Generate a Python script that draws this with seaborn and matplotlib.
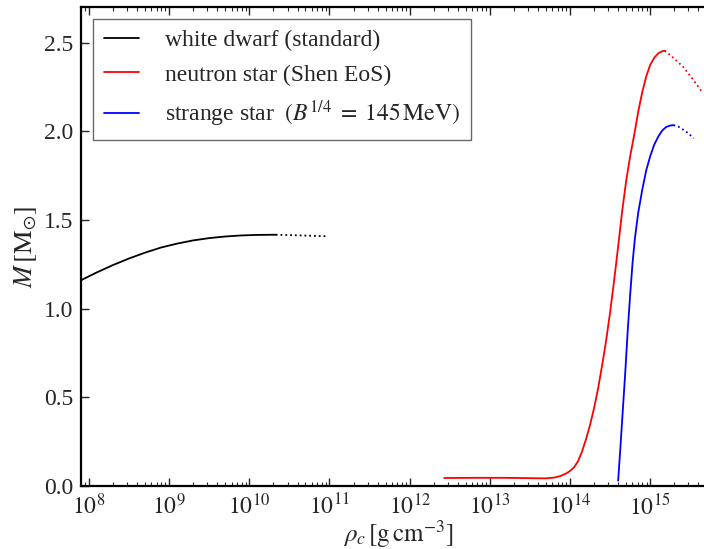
import numpy as np
import pandas as pd
import matplotlib
matplotlib.use("Agg")
import matplotlib.pyplot as plt
import seaborn as sns

# ---- data (log10 of central density [g cm^-3], mass [M_sun]) ----
wd_logrho = [7.90, 8.10, 8.30, 8.50, 8.70, 8.90, 9.00, 9.10, 9.30, 9.50, 9.70,
             9.90, 10.10, 10.33]
wd_mass = [1.160, 1.205, 1.246, 1.283, 1.316, 1.345, 1.356, 1.367, 1.385, 1.398,
           1.407, 1.413, 1.416, 1.417]
wd_unst_logrho = [10.33, 10.65, 10.98]
wd_unst_mass = [1.417, 1.413, 1.408]

ns_logrho = [12.43, 12.80, 13.20, 13.50, 13.70, 13.80, 13.88, 13.95, 14.00, 14.05,
             14.10, 14.15, 14.20, 14.25, 14.30, 14.35, 14.40, 14.45, 14.50, 14.55,
             14.60, 14.65, 14.70, 14.75, 14.80, 14.85, 14.90, 14.95, 15.00, 15.05,
             15.10, 15.15, 15.18]
ns_mass = [0.045, 0.046, 0.046, 0.044, 0.043, 0.047, 0.056, 0.070, 0.085, 0.105,
           0.140, 0.195, 0.265, 0.345, 0.440, 0.550, 0.680, 0.820, 0.980, 1.160,
           1.350, 1.550, 1.720, 1.860, 1.980, 2.110, 2.220, 2.310, 2.375, 2.415,
           2.440, 2.452, 2.455]
ns_unst_logrho = [15.18, 15.25, 15.30, 15.41, 15.53, 15.65]
ns_unst_mass = [2.455, 2.430, 2.410, 2.364, 2.295, 2.220]

ss_logrho = [14.60, 14.63, 14.66, 14.69, 14.72, 14.75, 14.78, 14.81, 14.85, 14.90,
             14.95, 15.00, 15.05, 15.10, 15.15, 15.20, 15.25, 15.29]
ss_mass = [0.030, 0.230, 0.440, 0.650, 0.880, 1.080, 1.260, 1.400, 1.540, 1.669,
           1.780, 1.860, 1.925, 1.970, 2.005, 2.025, 2.033, 2.035]
ss_unst_logrho = [15.29, 15.35, 15.41, 15.48, 15.54]
ss_unst_mass = [2.035, 2.027, 2.010, 1.988, 1.960]

labels = ["white dwarf (standard)",
          "neutron star (Shen EoS)",
          r"strange star $\ \left(B^{1/4}\;=\;145\,\mathrm{MeV}\right)$"]
colors = ["black", "red", "blue"]
xtick_exps = [8, 9, 10, 11, 12, 13, 14, 15]
yticks = [0.0, 0.5, 1.0, 1.5, 2.0, 2.5]

sns.set_style("ticks")
plt.rcParams["font.family"] = ["Liberation Serif", "DejaVu Serif"]
plt.rcParams["mathtext.fontset"] = "stix"

fig = plt.figure(figsize=(7.04, 5.49), dpi=100)
ax = fig.add_axes([0.1146, 0.1148, 0.9024, 0.872])

stable = [(wd_logrho, wd_mass), (ns_logrho, ns_mass), (ss_logrho, ss_mass)]
unstable = [(wd_unst_logrho, wd_unst_mass), (ns_unst_logrho, ns_unst_mass),
            (ss_unst_logrho, ss_unst_mass)]

for (lx, m), lab, c in zip(stable, labels, colors):
    df = pd.DataFrame({"rho": 10.0 ** np.array(lx), "M": m})
    sns.lineplot(data=df, x="rho", y="M", ax=ax, color=c, lw=1.3, label=lab,
                 sort=False, estimator=None)
for (lx, m), c in zip(unstable, colors):
    df = pd.DataFrame({"rho": 10.0 ** np.array(lx), "M": m})
    sns.lineplot(data=df, x="rho", y="M", ax=ax, color=c, lw=1.3, ls=":",
                 sort=False, estimator=None, legend=False)

ax.set_xscale("log")
ax.set_xlim(10 ** 7.897, 10 ** 15.82)
ax.set_ylim(0, 2.7)
ax.set_yticks(yticks)
ax.set_yticklabels([f"{v:.1f}" for v in yticks])
ax.set_xticks([10.0 ** k for k in xtick_exps])
ax.set_xticklabels([rf"$10^{{{k}}}$" for k in xtick_exps])

ax.tick_params(which="both", direction="in", top=True, right=True, labelsize=17)
ax.tick_params(which="major", length=6, width=1)
ax.tick_params(which="minor", length=3, width=0.8)
ax.tick_params(axis="x", pad=5.5)
ax.tick_params(axis="y", pad=5)
for s in ax.spines.values():
    s.set_linewidth(1.6)
    s.set_color("black")

ax.set_xlabel(r"$\rho_c\,[\mathrm{g\,cm^{-3}}]$", fontsize=18, labelpad=-1)
ax.set_ylabel(r"$M\,[\mathrm{M}_{\odot}]$", fontsize=19, labelpad=4)

leg = ax.legend(loc="upper left", bbox_to_anchor=(0.0193, 0.976), borderaxespad=0,
                fontsize=17, frameon=True, fancybox=False, handlelength=1.48,
                handletextpad=1.12, borderpad=0.45, labelspacing=0.56)
leg.get_frame().set_edgecolor("#444444")
leg.get_frame().set_linewidth(1.0)

fig.savefig("out.png", dpi=100)
